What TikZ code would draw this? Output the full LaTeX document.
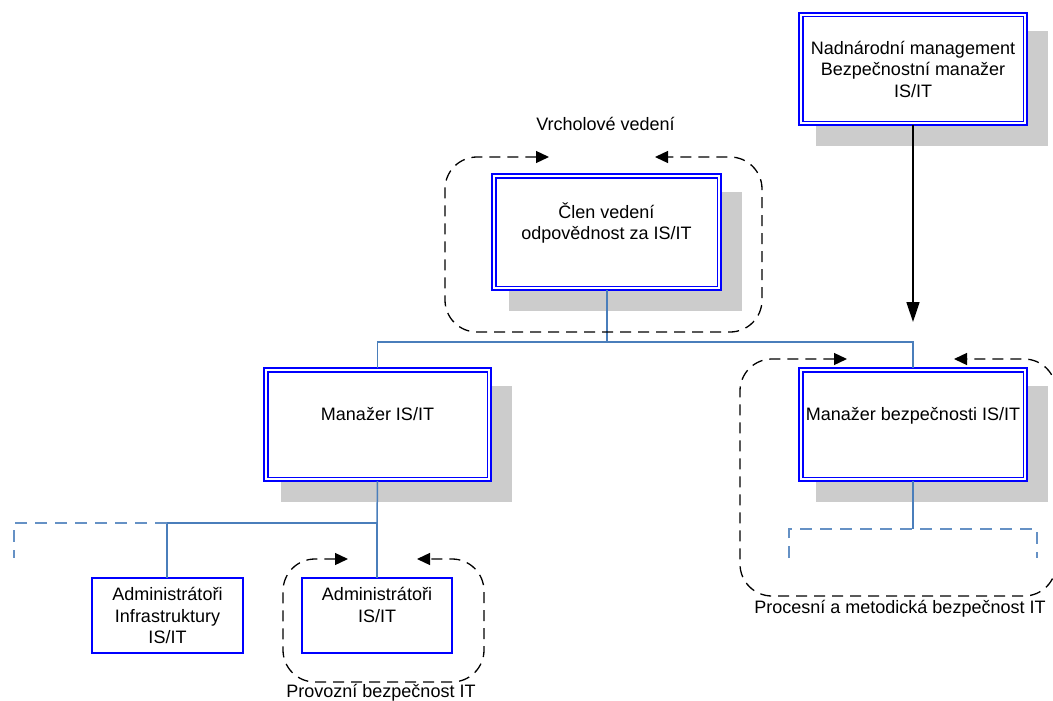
\documentclass[tikz,border=0pt]{standalone}
\usepackage{fontspec}
\setmainfont{Liberation Sans}
\usetikzlibrary{arrows.meta,backgrounds}
\definecolor{boxblue}{RGB}{0,0,255}
\definecolor{treeblue}{RGB}{74,126,187}
\definecolor{shadowgray}{RGB}{204,204,204}
\tikzset{
  txt/.style={font=\fontsize{18}{21.5}\selectfont, align=center},
  rolebox/.style={txt, draw=boxblue, line width=2pt, fill=white,
    inner sep=0pt, outer sep=0pt},
  teambox/.style={txt, draw=boxblue, line width=1.8pt, fill=white,
    inner sep=0pt, outer sep=0pt, minimum width=151pt, minimum height=75pt},
  innerframe/.style={draw=boxblue, line width=1.6pt},
  tree/.style={draw=treeblue, line width=1.5pt},
  treedash/.style={draw=treeblue!85, line width=1.5pt, dash pattern=on 12pt off 8pt},
  cycle loop/.style={draw=black, line width=1.3pt, dash pattern=on 11pt off 7pt,
    rounded corners=32pt, {Triangle[length=13pt,width=12pt]}-{Triangle[length=13pt,width=12pt]}},
  lbl/.style={font=\fontsize{18}{21.5}\selectfont, inner sep=0pt, anchor=base},
}
% inner line of a double frame, and the grey block behind a role box
\newcommand{\innerline}[1]{%
  \draw[innerframe] ([shift={(3.7,3.7)}]#1.north west) rectangle ([shift={(-3.7,-3.7)}]#1.south east);}
\newcommand{\boxshadow}[1]{%
  \fill[shadowgray] ([shift={(17,18)}]#1.north west) rectangle ([shift={(21,21)}]#1.south east);}
\begin{document}
\begin{tikzpicture}[x=1pt, y=-1pt]
\useasboundingbox (0,0) rectangle (1053,701);
\clip (0,0) rectangle (1053,701);

% role boxes (double blue frame)
\node[rolebox, minimum width=228pt, minimum height=112pt] (nadn) at (913,69)
  {Nadnárodní management\\Bezpečnostní manažer\\IS/IT};
\node[rolebox, minimum width=229pt, minimum height=116pt] (clen) at (606.5,232)
  {Člen vedení\\odpovědnost za IS/IT\\\mbox{}};
\node[rolebox, minimum width=227pt, minimum height=113pt] (manit) at (377.5,424.5)
  {Manažer IS/IT\\\mbox{}};
\node[rolebox, minimum width=228pt, minimum height=113pt] (mbez) at (913,424.5)
  {Manažer bezpečnosti IS/IT\\\mbox{}};
\innerline{nadn}
\innerline{clen}
\innerline{manit}
\innerline{mbez}

% team boxes (single blue frame)
\node[teambox] (infra) at (167.5,615.5) {Administrátoři\\Infrastruktury\\IS/IT};
\node[teambox, minimum width=150pt] (adm) at (377,615.5) {Administrátoři\\IS/IT\\\mbox{}};

% drop shadows behind the role boxes
\begin{scope}[on background layer]
  \boxshadow{nadn}
  \boxshadow{clen}
  \boxshadow{manit}
  \boxshadow{mbez}
\end{scope}

% reporting arrow from the supranational management
\coordinate (nadnend) at (913,322);
\draw[line width=1.6pt, -{Triangle[length=20pt,width=13pt]}] (nadn.south) -- (nadnend);

% organisation tree
\coordinate (bus1) at (607,342);
\draw[tree] (bus1 |- clen.south) -- (bus1);
\draw[tree] (bus1) -| (manit.north);
\draw[tree] (bus1) -| (mbez.north);

\coordinate (bus2) at (377,523);
\coordinate (bus2l) at (167,523);
\draw[tree] (manit.south) -- (bus2);
\draw[tree] (bus2) -- (bus2l) -- (bus2l |- infra.north);
\draw[tree] (bus2) -- (adm.north);
\coordinate (stubA) at (14,558);
\draw[treedash] (bus2l) -| (stubA);

\coordinate (bus3) at (913,529);
\draw[tree] (mbez.south) -- (bus3);
\coordinate (stubL) at (789,558);
\coordinate (stubR) at (1037,558);
\draw[treedash] (stubL) -- (stubL |- bus3) -- (stubR |- bus3) -- (stubR);

% security cycles around the groups
\draw[cycle loop] (549,157) -- (445,157) -- (445,332) -- (762,332) -- (762,157) -- (655,157);
\draw[cycle loop] (847,359) -- (740,359) -- (740,596) -- (1056,596) -- (1056,359) -- (954,359);
\draw[cycle loop] (348,559) -- (283,559) -- (283,682) -- (484,682) -- (484,559) -- (417,559);

% group captions
\node[lbl] (vrch) at (605.5,130) {Vrcholové vedení};
\node[lbl] (proc) at (900,613) {Procesní a metodická bezpečnost IT};
\node[lbl] (prov) at (381,697) {Provozní bezpečnost IT};
\end{tikzpicture}
\end{document}
